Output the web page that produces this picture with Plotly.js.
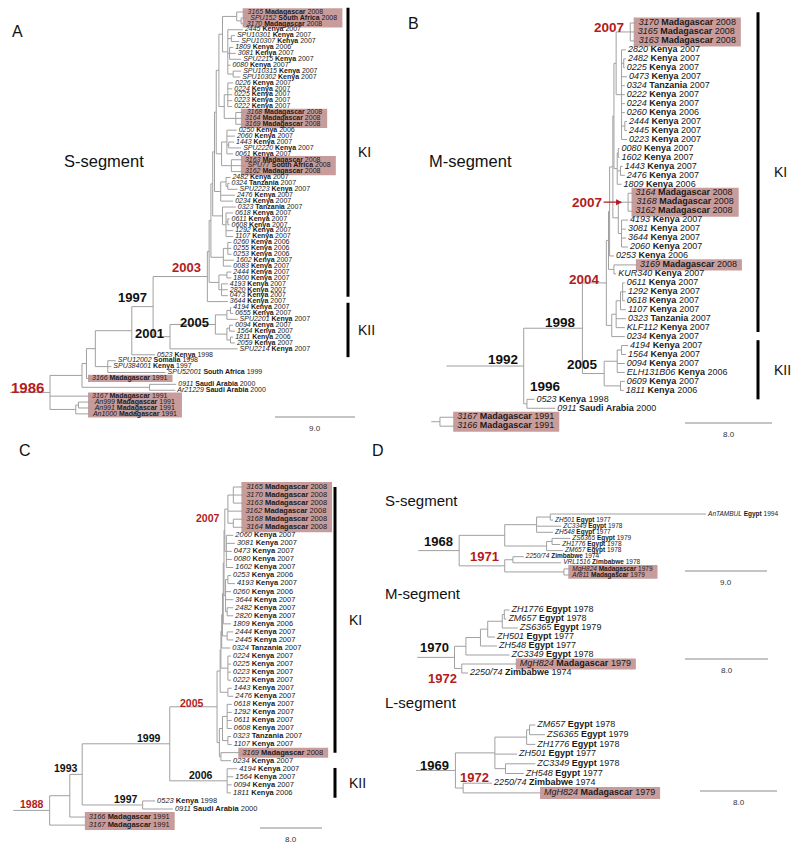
<!DOCTYPE html>
<html><head><meta charset="utf-8">
<script src="https://cdn.plot.ly/plotly-3.0.1.min.js"></script>
<style>body{margin:0;background:#fff}#chart{width:800px;height:850px}</style>
</head><body><div id="chart"></div>
<script>
const K='Kenya', M='Madagascar', SAF='South Africa', TZ='Tanzania', SOM='Somalia', SAU='Saudi Arabia', EG='Egypt', ZW='Zimbabwe';

// ---------------- Panel A : S-segment ----------------
const tipIdA = ['3165','SPU152','3170','2445','SPU10301','SPU10307','1809','3081','SPU2215','0080','SPU10315','SPU10302','0226','0224','0225','0223','0222','3168','3164','3169','0250','2060','1443','SPU2220','0061','3163','SPU77','3162','2482','0324','SPU2223','2476','0234','0323','0618','0611','0608','1292','1107','0260','0255','0253','1602','0083','2444','1800','4193','2820','0473','3644','4194','0655','SPU2201','0094','1564','1811','2059','SPU2214','0523','SPU12002','SPU384001','SPU52001','3166','0911','Ar21229','3167','An999','An991','An1000'];
const countryA = [M,SAF,M,K,K,K,K,K,K,K,K,K,K,K,K,K,K,M,M,M,K,K,K,K,K,M,SAF,M,K,TZ,K,K,K,TZ,K,K,K,K,K,K,K,K,K,K,K,K,K,K,K,K,K,K,K,K,K,K,K,K,K,SOM,K,SAF,M,SAU,SAU,M,M,M,M];
const yearA = [2008,2008,2008,2007,2007,2007,2006,2007,2007,2007,2007,2007,2007,2007,2007,2007,2007,2008,2008,2008,2006,2007,2007,2007,2007,2008,2008,2008,2007,2007,2007,2007,2007,2007,2007,2007,2007,2007,2007,2006,2006,2006,2007,2007,2007,2007,2007,2007,2007,2007,2007,2007,2007,2007,2007,2006,2007,2007,1998,1998,1997,1999,1991,2000,2000,1991,1991,1991,1991];
const posA = [2008.0,2008.3,2007.9,2007.7,2006.8,2007.3,2006.6,2006.9,2007.5,2006.3,
  2007.5,2007.4,2006.6,2006.5,2006.5,2006.5,2006.5,2007.9,2007.7,2007.7,
  2007.0,2006.8,2006.7,2007.5,2006.6,2007.7,2008.0,2007.7,2006.3,2006.2,
  2007.1,2006.8,2006.6,2006.9,2006.6,2006.2,2006.2,2006.6,2006.6,2006.4,
  2006.4,2006.4,2006.7,2006.4,2006.4,2006.4,2006.0,2006.0,2006.0,2006.0,
  2006.4,2006.6,2007.1,2006.6,2006.8,2006.6,2006.8,2007.1,1997.8,1993.4,
  1992.9,1999.0,1990.5,2000.2,2000.1,1990.5,1990.8,1990.8,1990.6];
const treeA = [1986.0, 'r',
  [1989.6,
    [1990.1,
      [1991.1,
        [1995.2,
          [1997.6, 'n1997',
            [2003.7, 'n2003',
              [2003.9,
                [2004.1,
                  [2004.3,
                    [2004.5,
                      [2004.7,
                        [2005.0,
                          [2005.4, [2007.0, 0, [2007.5, 1, 2]], [2006.0, 3, [2006.4, 4, 5], [2006.2, 6, 7, 8], 9, [2006.6, 10, 11]]],
                          [2005.6, [2006.0, 12, 13, 14, 15, 16], [2006.9, 17, 18, 19]]],
                        [2005.3, [2005.9, 20, 21, [2006.1, 22, 23], 24], [2006.4, 25, 26, 27]]],
                      [2005.2, [2005.8, 28, [2006.0, 29, 30]], 31, 32]],
                    [2005.4, 33, [2005.8, 34, [2006.0, 35, 36], 37, 38]]],
                  [2005.5, [2006.0, 39, 40, 41], 42, 43]],
                [2005.0, [2005.9, 44, 45], [2005.3, 46, 47, 48]]],
              49],
            [1999.5, 'n2001',
              [2004.6, 'n2005', [2005.9, [2006.3, 50, 51], 52], [2005.9, [2006.2, 53, 54], [2006.3, 55, 56]]],
              57]],
          58],
        [1992.5, 59, 60, 61]],
      62],
    [1997.2, 63, 64]],
  65,
  [1988.9, [1989.2, 66, 67], 68]];
const rootFromA = 1981.5;
const highlightA = [[0,2],[17,19],[25,27],[62,62],[65,68]];
const labelIdA = ['r','n1997','n2003','n2001','n2005'];
const labelTextA = ['1986','1997','2003','2001','2005'];
const cladeA = [['KI',-0.7,48.2],['KII',49.2,58.4]];
const scaleA = 9.0;

// ---------------- Panel B : M-segment ----------------
const tipIdB = ['3170','3165','3163','2820','2482','0225','0473','0324','0222','0224','0260','2444','2445','0223','0080','1602','1443','2476','1809','3164','3168','3162','4193','3081','3644','2060','0253','3169','KUR340','0611','1292','0618','1107','0323','KLF112','0234','4194','1564','0094','ELH131B06','0609','1811','0523','0911','3167','3166'];
const countryB = [M,M,M,K,K,K,K,TZ,K,K,K,K,K,K,K,K,K,K,K,M,M,M,K,K,K,K,K,M,K,K,K,K,K,TZ,K,K,K,K,K,K,K,K,K,SAU,M,M];
const yearB = [2008,2008,2008,2007,2007,2007,2007,2007,2007,2007,2006,2007,2007,2007,2007,2007,2007,2007,2006,2008,2008,2008,2007,2007,2007,2007,2006,2008,2007,2007,2007,2007,2007,2007,2007,2007,2007,2007,2007,2006,2007,2006,1998,2000,1991,1991];
const posB = [2007.9,2007.8,2007.9,2006.9,2006.9,2006.8,2007.0,2006.8,2006.8,2006.8,
  2006.8,2007.0,2007.0,2007.0,2006.3,2006.3,2006.6,2006.8,2006.5,2007.6,
  2007.7,2007.6,2007.1,2006.9,2006.9,2007.1,2005.8,2008.0,2006.0,2006.8,
  2006.9,2006.8,2006.9,2006.9,2006.8,2006.8,2007.1,2006.9,2006.8,2006.8,
  2006.8,2006.7,1998.5,2000.4,1991.2,1991.2];
const treeB = [1997.5, 'b1992',
  [2002.9, 'b1998',
    [2005.1, 'b2004',
      [2005.3,
        [2005.4,
          [2005.7,
            [2005.8,
              [2006.0, [2007.3, 'b2007a', 0, 1, 2], [2006.5, 3, [2006.7, 4, 5], 6, 7, 8, 9, 10, [2006.8, 11, 12], 13]],
              [2006.1, [2006.2, 14, 15], [2006.4, 16, 17], 18]],
            [2006.2, [2007.1, 'b2007b', 19, 20, 21], [2006.5, 22, 23, 24, 25]]],
          26],
        [2005.8, 27, 28]],
      [2005.6, [2006.0, [2006.4, [2006.6, 29, 30, 31], 32], 33, 34], 35]],
    [2004.9, 'b2005', [2006.1, [2006.5, 36, 37], 38, 39], [2006.4, 40, 41]]],
  [1997.8, 'b1996', 42, 43]];
const rootFromB = 1990.4;
const treeB2 = [1989.8, 44, 45];
const rootFromB2 = 1989.0;
const highlightB = [[0,2],[19,21],[27,27],[44,45]];
const labelIdB = ['b1992','b1998','b2004','b2005','b1996','b2007a','b2007b'];
const labelTextB = ['1992','1998','2004','2005','1996','2007','2007'];
const cladeB = [['KI',-1.2,34.5],['KII',35.4,42.0]];
const scaleB = 8.0;

// ---------------- Panel C ----------------
const tipIdC = ['3165','3170','3163','3162','3168','3164','2060','3081','0473','0080','1602','0253','4193','0260','3644','2482','2820','1809','2444','2445','0324','0224','0225','0223','0222','1443','2476','0618','1292','0611','0608','0323','1107','3169','0234','4194','1564','0094','1811','0523','0911','3166','3167'];
const countryC = [M,M,M,M,M,M,K,K,K,K,K,K,K,K,K,K,K,K,K,K,TZ,K,K,K,K,K,K,K,K,K,K,TZ,K,M,K,K,K,K,K,K,SAU,M,M];
const yearC = [2008,2008,2008,2008,2008,2008,2007,2007,2007,2007,2007,2006,2007,2006,2007,2007,2007,2006,2007,2007,2007,2007,2007,2007,2007,2007,2007,2007,2007,2007,2007,2007,2007,2008,2007,2007,2007,2007,2006,1998,2000,1991,1991];
const posC = [2008.7,2008.7,2008.7,2008.6,2008.7,2008.7,2007.3,2007.5,2007.1,2007.1,
  2007.3,2007.0,2007.5,2007.0,2007.3,2007.3,2007.3,2007.0,2007.3,2007.3,
  2006.9,2007.0,2007.0,2007.0,2007.0,2007.1,2007.3,2007.1,2007.1,2007.1,
  2007.1,2007.0,2007.1,2008.2,2007.0,2007.8,2007.3,2007.1,2007.0,1997.2,
  1999.5,1988.4,1988.4];
const treeC = [1983.6, 'c1988',
  [1986.2,
    [1987.8, 'c1993',
      [1999.1, 'c1999',
        [2005.2, 'c2005',
          [2005.6,
            [2005.7,
              [2005.8,
                [2005.9,
                  [2006.0,
                    [2006.1,
                      [2006.2, [2006.6, 'c2007', [2007.3, 0, 1, 2], 3, [2007.3, 4, 5]], [2006.4, 6, 7, 8, 9, 10]],
                      [2006.3, [2006.6, 11, 12], 13, 14, [2006.5, 15, 16]]],
                    17],
                  [2006.5, 18, 19]],
                20],
              [2006.6, 21, 22, 23, 24]],
            [2006.6, 25, 26]],
          [2005.5, [2005.9, [2006.5, 27, 28, 29, 30], [2006.6, 31, 32]], [2005.7, 33, 34]]],
        [2006.5, 'c2006', 35, 36, 37, 38]],
      [1995.6, 'c1997', 39, 40]],
    41],
  42];
const rootFromC = 1978.9;
const highlightC = [[0,5],[33,33],[41,42]];
const labelIdC = ['c1988','c1993','c1999','c2005','c2006','c1997','c2007'];
const labelTextC = ['1988','1993','1999','2005','2006','1997','2007'];
const cladeC = [['KI',0,33],['KII',34.9,38.6]];
const scaleC = 8.0;

// ---------------- Panel D : older strains ----------------
const tipIdDS = ['AnTAMBUL','ZH501','ZC3349','ZH548','ZS6365','ZH1776','ZM657','2250/74','VRL1516','MgH824','Ar811'];
const countryDS = [EG,EG,EG,EG,EG,EG,EG,ZW,ZW,M,M];
const yearDS = [1994,1977,1978,1977,1979,1978,1978,1974,1978,1979,1979];
const posDS = [1993.8,1977.0,1977.9,1977.0,1978.9,1977.8,1978.1,1973.8,1977.9,1978.9,1978.9];
const treeDS = [1966.7, 's1968',
  [1971.7, [1975.2, [1976.7, 0, 1], 2, 3], [1976.3, [1976.9, 4, 5], 6]],
  [1971.7, 's1971', [1972.6, 7, 8], [1978.2, 9, 10]]];
const rootFromDS = 1962.2;
const highlightDS = [[9,10]];
const labelIdDS = ['s1968','s1971'];
const labelTextDS = ['1968','1971'];
const scaleDS = 9.0;

const tipIdDM = ['ZH1776','ZM657','ZS6365','ZH501','ZH548','ZC3349','MgH824','2250/74'];
const countryDM = [EG,EG,EG,EG,EG,EG,M,ZW];
const yearDM = [1978,1978,1979,1977,1977,1978,1979,1974];
const posDM = [1978.0,1977.7,1978.8,1976.6,1976.8,1978.0,1978.8,1974.0];
const treeDM = [1972.7, 'm1970',
  [1973.8, [1975.2, [1975.9, [1977.3, [1977.5, 0, 1], 2], 3], 4], 5],
  [1973.4, 'm1972', 6, 7]];
const rootFromDM = 1969.1;
const highlightDM = [[6,6]];
const labelIdDM = ['m1970','m1972'];
const labelTextDM = ['1970','1972'];
const scaleDM = 8.0;

const tipIdDL = ['ZM657','ZS6365','ZH1776','ZH501','ZC3349','ZH548','2250/74','MgH824'];
const countryDL = [EG,EG,EG,EG,EG,EG,ZW,M];
const yearDL = [1978,1979,1978,1977,1978,1977,1974,1979];
const posDL = [1978.5,1979.5,1978.5,1976.6,1978.5,1977.3,1974.0,1979.2];
const treeDL = [1970.2, 'l1969',
  [1974.3, [1977.6, [1977.9, 0, 1], 2], 3, [1975.4, 4, 5]],
  [1971.0, 'l1972', 6, 7]];
const rootFromDL = 1966.1;
const highlightDL = [[7,7]];
const labelIdDL = ['l1969','l1972'];
const labelTextDL = ['1969','1972'];
const scaleDL = 8.0;

// ---------------- styling / layout ----------------
const FONT = '"Liberation Sans", Arial, sans-serif';
const LINE_C = '#a0a0a0', BOX_C = '#c99c9c', RED_C = '#b31b20', TXT_C = '#1a1a1a';
const W = 800, H = 850, GAP = 2;
const RED = new Set(['r','n2003','b2004','b2007a','b2007b','c1988','c2005','c2007','s1971','m1972','l1972']);
const PLACE = {
  r: {size:15, dy:-6},
  n2001: {dy:-6},
  n2005: {dy:-8},
  b1992: {dy:-3},
  b1998: {dy:-4},
  b2004: {dy:-6},
  b2007a: {dy:-5},
  b1996: {xa:'left', ya:'bottom', dx:1, dy:8},
  b2007b: {arrow:true},
  c1999: {dx:-7},
  c2005: {dx:-11, dy:-4},
  c2006: {dx:-12},
  c1993: {dx:-2},
  c1997: {dx:-3},
  c2007: {xa:'right', ya:'middle', dx:-6, dy:-9},
  m1972: {xa:'right', ya:'top', dx:-3, dy:0},
  l1969: {dy:-5},
  l1972: {xa:'left', ya:'bottom', dx:-5, dy:1}
};

const panels = [
  {ids:tipIdA, ctry:countryA, yrs:yearA, pos:posA, trees:[[treeA,rootFromA]], hl:highlightA, labIds:labelIdA, labTxt:labelTextA, clades:cladeA, scale:scaleA,
   aYr:1986, aPx:50, ppy:8.89, y0:12, rowH:5.91, tipFont:7, nodeFont:13, labDy:0, barPx:348, cladeDx:8, scalePx:[275,417]},
  {ids:tipIdB, ctry:countryB, yrs:yearB, pos:posB, trees:[[treeB,rootFromB],[treeB2,rootFromB2]], hl:highlightB, labIds:labelIdB, labTxt:labelTextB, clades:cladeB, scale:scaleB,
   aYr:2007, aPx:627, ppy:10.875, y0:23, rowH:8.96, tipFont:9, nodeFont:13.5, labDy:0, barPx:758, cladeDx:14, scalePx:[685,423]},
  {ids:tipIdC, ctry:countryC, yrs:yearC, pos:posC, trees:[[treeC,rootFromC]], hl:highlightC, labIds:labelIdC, labTxt:labelTextC, clades:cladeC, scale:scaleC,
   aYr:2007, aPx:231, ppy:7.75, y0:487, rowH:8.05, tipFont:7.5, nodeFont:10.5, labDy:-2, barPx:335, cladeDx:12, scalePx:[260,828]},
  {ids:tipIdDS, ctry:countryDS, yrs:yearDS, pos:posDS, trees:[[treeDS,rootFromDS]], hl:highlightDS, labIds:labelIdDS, labTxt:labelTextDS, clades:[], scale:scaleDS,
   aYr:1977, aPx:553, ppy:9.11, y0:514, rowH:6.1, tipFont:6.5, nodeFont:13, labDy:0, scalePx:[685,571]},
  {ids:tipIdDM, ctry:countryDM, yrs:yearDM, pos:posDM, trees:[[treeDM,rootFromDM]], hl:highlightDM, labIds:labelIdDM, labTxt:labelTextDM, clades:[], scale:scaleDM,
   aYr:1974, aPx:468, ppy:10.375, y0:610, rowH:9.0, tipFont:9, nodeFont:13, labDy:0, scalePx:[685,659]},
  {ids:tipIdDL, ctry:countryDL, yrs:yearDL, pos:posDL, trees:[[treeDL,rootFromDL]], hl:highlightDL, labIds:labelIdDL, labTxt:labelTextDL, clades:[], scale:scaleDL,
   aYr:1974, aPx:492, ppy:9.625, y0:725, rowH:9.7, tipFont:9, nodeFont:13, labDy:0, scalePx:[700,791]}
];

const titles = [
  ['A',10,32,16],['B',406,24,16],['C',17,450,16],['D',370,450,16],
  ['S-segment',62,161,16.5],['M-segment',427,161,16.5],
  ['S-segment',383,500,15],['M-segment',383,593,15],['L-segment',383,702,15]
];

const ctx = document.createElement('canvas').getContext('2d');
function tw(str, style, size){ ctx.font = style + ' ' + size + 'px ' + FONT; return ctx.measureText(str).width; }

const traces = [], shapes = [], annotations = [];
const layout = {width:W, height:H, margin:{l:0,r:0,t:0,b:0}, showlegend:false,
  paper_bgcolor:'#fff', plot_bgcolor:'rgba(0,0,0,0)', shapes, annotations, hovermode:false};

panels.forEach((P, k) => {
  const sfx = k === 0 ? '' : String(k+1);
  const xa = 'x'+sfx, ya = 'y'+sfx;
  const toPx = yr => P.aPx + (yr - P.aYr)*P.ppy;
  const toYr = px => P.aYr + (px - P.aPx)/P.ppy;
  const toRow = py => (py - P.y0)/P.rowH;
  layout['xaxis'+sfx] = {domain:[0,1], range:[toYr(0), toYr(W)], visible:false, fixedrange:true, anchor:ya};
  layout['yaxis'+sfx] = {domain:[0,1], range:[toRow(H), toRow(0)], visible:false, fixedrange:true, anchor:xa};

  // tree branches
  const lx = [], ly = [], nodes = {};
  function walk(node){
    if (typeof node === 'number') return {x:P.pos[node], y:node};
    const x = node[0]; let id = null; const kids = [];
    for (let j=1;j<node.length;j++){
      const e = node[j];
      if (typeof e === 'string') id = e; else kids.push(walk(e));
    }
    const y = (kids[0].y + kids[kids.length-1].y)/2;
    lx.push(x, x, null); ly.push(kids[0].y, kids[kids.length-1].y, null);
    kids.forEach(c => { lx.push(x, c.x, null); ly.push(c.y, c.y, null); });
    if (id) nodes[id] = {x, y};
    return {x, y};
  }
  P.trees.forEach(([tree, from]) => {
    const r = walk(tree);
    lx.push(from, r.x, null); ly.push(r.y, r.y, null);
  });
  traces.push({type:'scatter', mode:'lines', x:lx, y:ly, xaxis:xa, yaxis:ya,
    line:{color:LINE_C, width:1}, hoverinfo:'skip'});

  // tip labels
  const tx = [], ty = [], tt = [];
  P.ids.forEach((id, i) => {
    tx.push(P.pos[i] + GAP/P.ppy); ty.push(i);
    tt.push('<i>'+id+'</i> <b>'+P.ctry[i]+'</b> '+P.yrs[i]);
  });
  traces.push({type:'scatter', mode:'text', x:tx, y:ty, text:tt, textposition:'middle right',
    textfont:{family:FONT, size:P.tipFont, color:TXT_C}, xaxis:xa, yaxis:ya, cliponaxis:false, hoverinfo:'skip'});

  // highlight boxes
  const lw = i => tw(P.ids[i],'italic',P.tipFont) + tw(' '+P.yrs[i],'normal',P.tipFont) + tw(' ','normal',P.tipFont) + tw(P.ctry[i],'bold',P.tipFont);
  P.hl.forEach(([a,b]) => {
    let mn = Infinity, mx = -Infinity;
    for (let i=a;i<=b;i++){ const p = toPx(P.pos[i]); mn = Math.min(mn, p); mx = Math.max(mx, p + GAP + lw(i)); }
    shapes.push({type:'rect', xref:xa, yref:ya, x0:toYr(mn-2), x1:toYr(mx+5), y0:a-0.62, y1:b+0.62,
      fillcolor:BOX_C, line:{width:0}, layer:'below'});
  });

  // node labels
  P.labIds.forEach((id, j) => {
    const n = nodes[id]; if (!n) return;
    const sp = PLACE[id] || {};
    const ann = {xref:xa, yref:ya, x:n.x, y:n.y, text:'<b>'+P.labTxt[j]+'</b>',
      font:{family:FONT, size:sp.size || P.nodeFont, color:RED.has(id) ? RED_C : '#111'}};
    if (sp.arrow){
      Object.assign(ann, {showarrow:true, ax:-41, ay:0, arrowhead:2, arrowsize:1, arrowwidth:1.2, arrowcolor:RED_C, standoff:6});
    } else {
      Object.assign(ann, {showarrow:false, xanchor:sp.xa || 'right', yanchor:sp.ya || 'bottom',
        xshift:(sp.dx !== undefined ? sp.dx : -4), yshift:(sp.dy !== undefined ? sp.dy : P.labDy)});
    }
    annotations.push(ann);
  });

  // clade bars
  P.clades.forEach(([name, a, b]) => {
    shapes.push({type:'line', xref:'paper', yref:ya, x0:P.barPx/W, x1:P.barPx/W, y0:a, y1:b, line:{color:'#000', width:3}});
    annotations.push({xref:'paper', yref:ya, x:(P.barPx+P.cladeDx)/W, y:(a+b)/2, text:name, showarrow:false,
      xanchor:'left', yanchor:'middle', font:{family:FONT, size:14, color:'#111'}});
  });

  // scale bar
  const sx = toYr(P.scalePx[0]), sy = toRow(P.scalePx[1]);
  traces.push({type:'scatter', mode:'lines', x:[sx, sx+P.scale], y:[sy, sy], xaxis:xa, yaxis:ya,
    line:{color:'#8a8a8a', width:1}, hoverinfo:'skip'});
  annotations.push({xref:xa, yref:ya, x:sx+P.scale/2, y:sy, text:P.scale.toFixed(1), showarrow:false,
    xanchor:'center', yanchor:'top', yshift:-5, font:{family:FONT, size:8, color:'#333'}});
});

titles.forEach(([t, x, y, s]) => {
  annotations.push({xref:'paper', yref:'paper', x:x/W, y:1-y/H, text:t, showarrow:false,
    xanchor:'left', yanchor:'middle', font:{family:FONT, size:s, color:'#111'}});
});

Plotly.newPlot('chart', traces, layout, {staticPlot:true, displayModeBar:false});
</script>
</body></html>
